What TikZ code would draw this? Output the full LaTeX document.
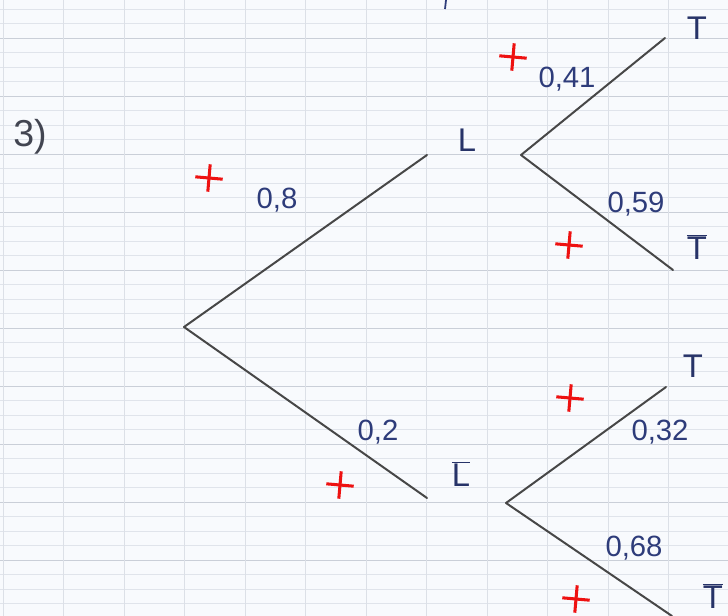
\documentclass[tikz,border=0pt]{standalone}
\usepackage{fontspec}
\setmainfont{Liberation Sans}
\usetikzlibrary{shapes.misc}

\definecolor{paper}{HTML}{F8FAFD}
\definecolor{ink}{HTML}{2E3C7A}
\definecolor{pencil}{HTML}{474747}
\definecolor{rulemajor}{HTML}{CACFD8}
\definecolor{ruleminor}{HTML}{E0E4EB}
\definecolor{mark}{HTML}{EE1111}

\begin{document}
\begin{tikzpicture}[
  x=0.03cm, y=-0.03cm,
  branch/.style={draw=pencil, line width=1.7pt, line cap=round},
  prob/.style={text=ink, font=\fontsize{25}{27}\selectfont, inner sep=0pt},
  event/.style={text=ink!85!black, font=\fontsize{28}{30}\selectfont, inner sep=0pt},
  tick/.style={draw=mark, cross out, rotate=40, line width=2.6pt, minimum size=14pt, inner sep=0pt}
]
  \useasboundingbox (0,0) rectangle (728,616);
  \fill[paper] (0,0) rectangle (728,616);

  % grid paper
  \foreach \y in {9,23.5,...,616}
    \draw[ruleminor, line width=0.5pt] (0,\y) -- (728,\y);
  \foreach \y in {38,96,...,616}
    \draw[rulemajor, line width=0.7pt] (0,\y) -- (728,\y);
  \foreach \x in {3,63.5,...,728}
    \draw[ruleminor!80!rulemajor, line width=0.6pt] (\x,0) -- (\x,616);

  \node[text=pencil!80!ink, font=\fontsize{32}{34}\selectfont, inner sep=0pt] (num) at (30,137) {3)};
  \draw[ink, line width=1.5pt] (446,0) -- (445,9);

  % tree
  \coordinate (root) at (184,327);
  \coordinate (L) at (427,155);
  \coordinate (Lb) at (427,498);
  \coordinate (Ls) at (521,155);
  \coordinate (Lbs) at (506,503);
  \coordinate (T1) at (665,38);
  \coordinate (T1b) at (673,270);
  \coordinate (T2) at (666,387);
  \coordinate (T2b) at (672,616);

  \draw[branch] (root) -- (L);
  \draw[branch] (root) -- (Lb);
  \draw[branch] (Ls) -- (T1);
  \draw[branch] (Ls) -- (T1b);
  \draw[branch] (Lbs) -- (T2);
  \draw[branch] (Lbs) -- (T2b);

  \node[event] (nL) at (467,140) {L};
  \node[event] (nLb) at (461,474) {$\overline{\mbox{L}}$};
  \node[event] (nT1) at (697,28) {T};
  \node[event] (nT1b) at (697,247) {$\overline{\mbox{T}}$};
  \node[event] (nT2) at (693,366) {T};
  \node[event] (nT2b) at (713,596) {$\overline{\mbox{T}}$};

  \node[prob] (p1) at (277,200) {0,8};
  \node[prob] (p2) at (378,432) {0,2};
  \node[prob] (p3) at (567,79) {0,41};
  \node[prob] (p4) at (636,204) {0,59};
  \node[prob] (p5) at (660,432) {0,32};
  \node[prob] (p6) at (634,548) {0,68};

  % red marks
  \node[tick] (c1) at (209,178) {};
  \node[tick] (c2) at (513,57) {};
  \node[tick] (c3) at (569,245) {};
  \node[tick] (c4) at (340,485) {};
  \node[tick] (c5) at (570,398) {};
  \node[tick] (c6) at (576,599) {};
\end{tikzpicture}
\end{document}
